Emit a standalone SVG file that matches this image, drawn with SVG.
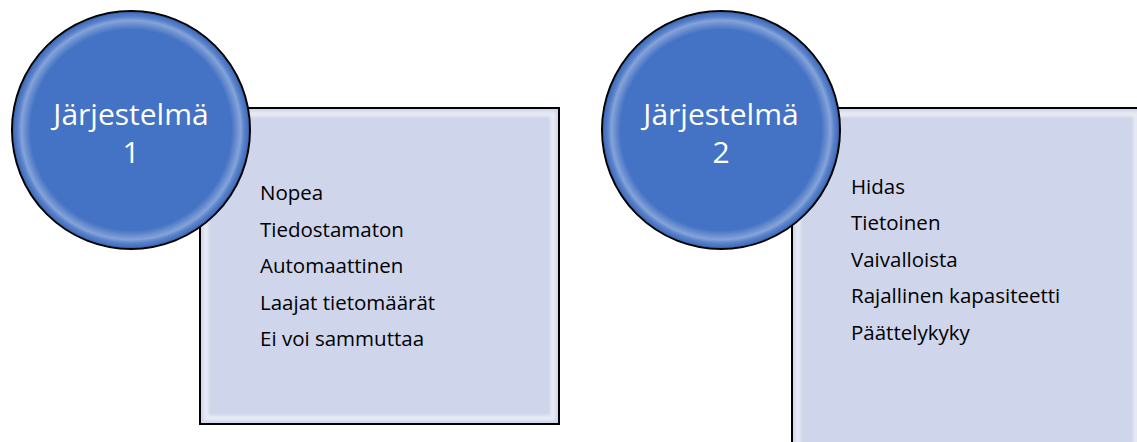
<svg xmlns="http://www.w3.org/2000/svg" width="1137" height="442" viewBox="0 0 1137 442">
  <defs>
    <style>
      .box { fill: #cfd5ea; stroke: #000; stroke-width: 2; }
      .bevel { fill: none; stroke: #ffffff; stroke-opacity: 0.55; stroke-width: 5; filter: url(#soft); }
      .circ { fill: #4472c4; stroke: #000; stroke-width: 2; }
      .ring { fill: url(#rg); }
      .ctext { font-family: "Open Sans", "Liberation Sans", sans-serif; font-size: 30px; fill: #ffffff; text-anchor: middle; }
      .item { font-family: "Open Sans", "Liberation Sans", sans-serif; font-size: 20.5px; fill: #000000; }
    </style>
    <radialGradient id="rg" cx="0.5" cy="0.5" r="0.5">
      <stop offset="0.85" stop-color="#ffffff" stop-opacity="0"/>
      <stop offset="0.93" stop-color="#ffffff" stop-opacity="0.35"/>
      <stop offset="0.97" stop-color="#6f93d3" stop-opacity="0.25"/>
      <stop offset="1" stop-color="#2f5597" stop-opacity="0.6"/>
    </radialGradient>
    <filter id="soft" x="-5%" y="-5%" width="110%" height="110%">
      <feGaussianBlur stdDeviation="1.5"/>
    </filter>
  </defs>

  <g id="box1">
    <rect class="box" x="200" y="108" width="359" height="316"/>
    <rect class="bevel" x="206" y="114" width="347" height="304"/>
    <text class="item" x="260" y="200">Nopea</text>
    <text class="item" x="260" y="237">Tiedostamaton</text>
    <text class="item" x="260" y="273">Automaattinen</text>
    <text class="item" x="260" y="310">Laajat tietomäärät</text>
    <text class="item" x="260" y="346">Ei voi sammuttaa</text>
  </g>

  <g id="circle1">
    <circle class="circ" cx="131" cy="130" r="119"/>
    <circle class="ring" cx="131" cy="130" r="118"/>
    <text class="ctext" x="131" y="125">Järjestelmä</text>
    <text class="ctext" x="131" y="163">1</text>
  </g>

  <g id="box2">
    <rect class="box" x="792" y="108" width="360" height="350"/>
    <rect class="bevel" x="798" y="114" width="338" height="340"/>
    <text class="item" x="851" y="194">Hidas</text>
    <text class="item" x="851" y="230">Tietoinen</text>
    <text class="item" x="851" y="267">Vaivalloista</text>
    <text class="item" x="851" y="303">Rajallinen kapasiteetti</text>
    <text class="item" x="851" y="340">Päättelykyky</text>
  </g>

  <g id="circle2">
    <circle class="circ" cx="721" cy="130" r="119"/>
    <circle class="ring" cx="721" cy="130" r="118"/>
    <text class="ctext" x="721" y="125">Järjestelmä</text>
    <text class="ctext" x="721" y="163">2</text>
  </g>

  <g id="connectors"></g>
</svg>
